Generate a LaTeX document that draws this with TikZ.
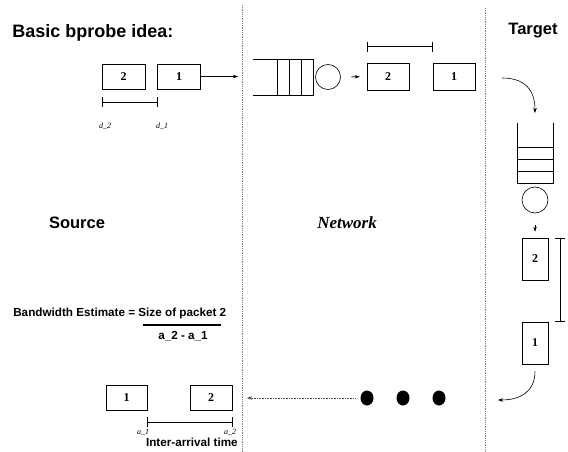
\documentclass[tikz,border=0pt]{standalone}
\usepackage{fontspec}
\setmainfont{Liberation Serif}
\setsansfont{Liberation Sans}
\usetikzlibrary{arrows.meta,shapes.geometric,positioning}

\begin{document}
\begin{tikzpicture}[x=1pt,y=-1pt,>={Stealth[length=5pt,width=3.5pt]},line width=0.6pt,
    packet/.style={draw,minimum width=43pt,minimum height=25pt,inner sep=0pt,font=\rmfamily\bfseries\fontsize{12}{13}\selectfont},
    tallpacket/.style={packet,minimum width=26pt,minimum height=42pt},
    heading/.style={font=\sffamily\bfseries\fontsize{16.5}{18}\selectfont,inner sep=0pt},
    formula/.style={font=\sffamily\bfseries\fontsize{11.7}{13}\selectfont,inner sep=0pt},
    tick label/.style={font=\rmfamily\itshape\fontsize{8}{9}\selectfont,inner sep=0pt},
    span/.style={{Bar[width=10pt]}-{Bar[width=10pt]}},
    divider/.style={gray,densely dotted,line width=0.8pt},
    server/.style={circle,draw,minimum size=25pt,inner sep=0pt},
    dot/.style={ellipse,fill=black,minimum width=13pt,minimum height=15pt,inner sep=0pt}]
    \useasboundingbox (0,0) rectangle (568,452);

    % dividers
    \draw[divider] (242,5) -- (242,452);
    \draw[divider] (485,8) -- (485,452);

    % headings
    \node[heading,font=\sffamily\bfseries\fontsize{18}{20}\selectfont,anchor=west] (title) at (12,33) {Basic bprobe idea:};
    \node[heading] (source) at (77,223) {Source};
    \node[font=\rmfamily\bfseries\itshape\fontsize{17}{19}\selectfont,inner sep=0pt] (network) at (347,223) {Network};
    \node[heading] (target) at (533,31) {Target};

    % source side
    \node[packet] (s2) at (123.5,76.5) {2};
    \node[packet,right=12pt of s2] (s1) {1};
    \coordinate (sout) at (238,76.5);
    \draw[->] (s1) -- (sout);
    \draw[span] ([yshift=-13pt]s2.south west) -- ([yshift=-13pt]s1.south west);
    \node[tick label] (d2) at (105,126) {d\_2};
    \node[tick label] (d1) at (162,126) {d\_1};

    % network queue
    \draw (253,59) -- (313,59) -- (313,95) -- (253,95);
    \foreach \x in {277,289,301}
        \draw (\x,59) -- (\x,95);
    \node[server] (nserver) at (328,77) {};
    \node[packet,minimum width=42pt,minimum height=27pt] (n2) at (388,76.5) {2};
    \node[packet,minimum width=42pt,minimum height=27pt] (n1) at (454,76.5) {1};
    \draw[->,shorten <=10pt,shorten >=7pt] (nserver) -- (n2);
    \draw[span] ([yshift=16pt]n2.north west) -- ([yshift=16pt]n1.north west);

    % target queue
    \coordinate (tin) at (502,78);
    \coordinate (ttop) at (535,113);
    \draw[->] (tin) .. controls (525,78) and (535,90) .. (ttop);
    \draw (517,123) -- (517,183) -- (553,183) -- (553,123);
    \foreach \y in {147,159,171}
        \draw (517,\y) -- (553,\y);
    \node[server,minimum size=26pt] (tserver) at (535,200) {};
    \node[tallpacket] (t2) at (535,259) {2};
    \node[tallpacket] (t1) at (535,343) {1};
    \draw[->,shorten <=12pt,shorten >=6pt] (tserver) -- (t2);
    \draw[span] ([xshift=12pt]t2.north east) -- ([xshift=12pt]t1.north east);
    \coordinate (tout) at (498,400);
    \draw[->,shorten <=7pt] (t1.south) .. controls (535,392) and (520,400) .. (tout);

    % packets on the way back
    \node[dot] (dot1) at (367,398) {};
    \node[dot] (dot2) at (403,398) {};
    \node[dot] (dot3) at (439,398) {};
    \coordinate (arrive) at (247,398);
    \draw[->,densely dotted,gray!60!black,shorten <=5pt] (dot1) -- (arrive);

    % arrivals at the source
    \node[packet,minimum width=41pt] (r1) at (126.5,397.5) {1};
    \node[packet,minimum width=42pt] (r2) at (211,397.5) {2};
    \draw[span] ([yshift=-12pt]r1.south east) -- ([yshift=-12pt]r2.south east);
    \node[tick label] (a1) at (143,432) {a\_1};
    \node[tick label] (a2) at (230,432) {a\_2};
    \node[formula,anchor=east] (iat) at (238,442) {Inter-arrival time};

    % estimate
    \node[formula,anchor=west] (bw) at (13,313) {Bandwidth Estimate = Size of packet 2};
    \draw[line width=1.5pt] (143,325) -- (221,325);
    \node[formula] (den) at (183,336) {a\_2 - a\_1};
\end{tikzpicture}
\end{document}
